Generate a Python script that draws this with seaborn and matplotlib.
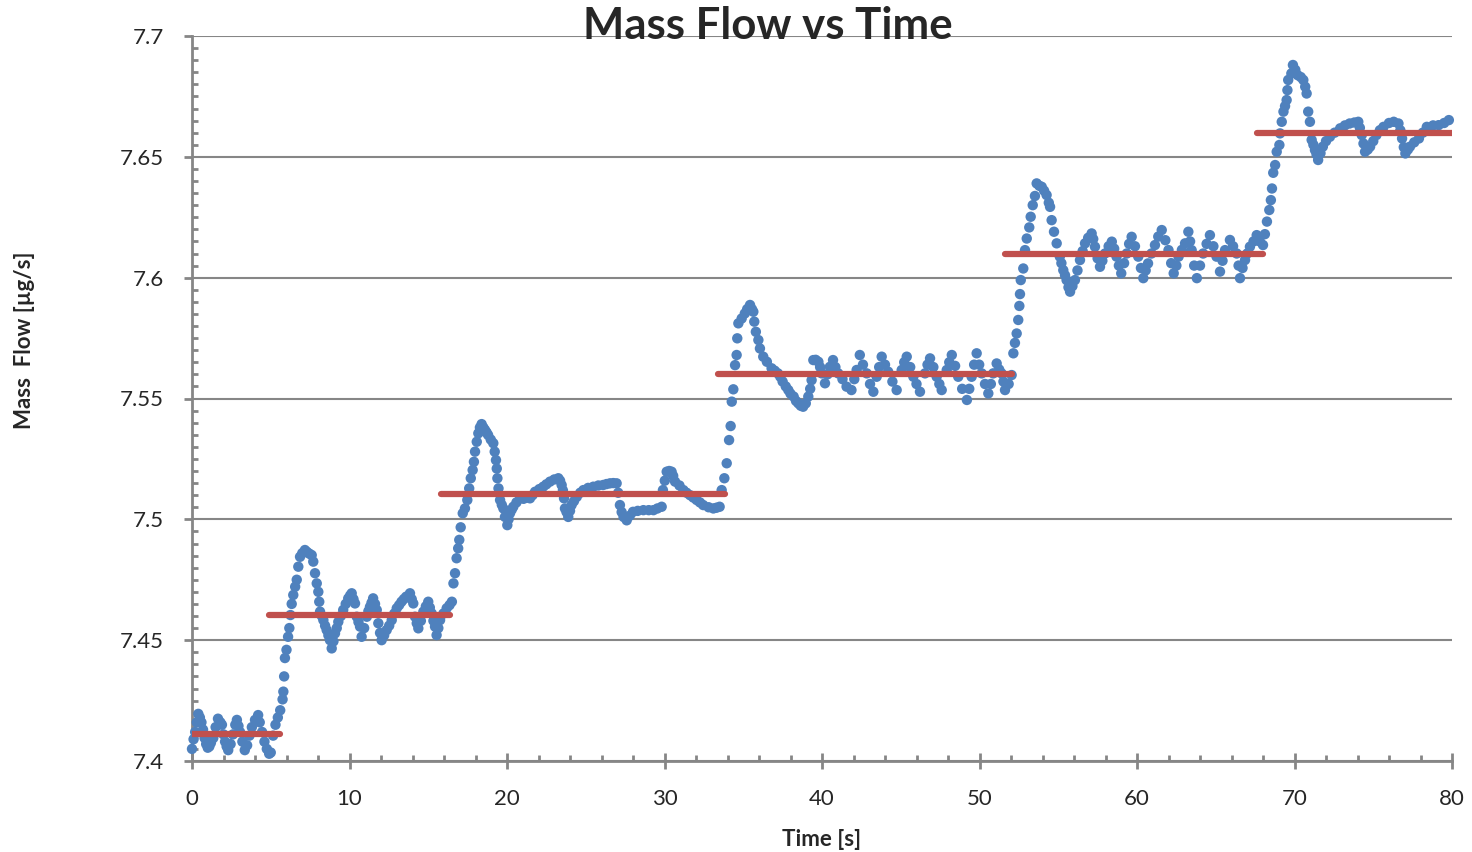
import numpy as np
import pandas as pd
import matplotlib
matplotlib.use("Agg")
import matplotlib.pyplot as plt
from matplotlib.ticker import MultipleLocator
import seaborn as sns

time_s = [
    0.0, 0.1, 0.2, 0.3, 0.4, 0.5, 0.6, 0.7, 0.8, 0.9, 1.0, 1.1, 1.2, 1.35, 1.5, 1.65, 1.8, 1.9,
    2.0, 2.1, 2.2, 2.3, 2.45, 2.6, 2.75, 2.85, 2.95, 3.05, 3.2, 3.35, 3.5, 3.65, 3.8, 4.0, 4.2,
    4.3, 4.45, 4.6, 4.75, 4.9, 5.0, 5.15, 5.3, 5.45, 5.6, 5.75,
    5.8, 5.85, 5.9, 6.0, 6.1, 6.18, 6.25, 6.33, 6.43, 6.55, 6.65, 6.75, 6.86, 7.0, 7.17, 7.3,
    7.45, 7.6, 7.7, 7.81, 7.92, 8.02, 8.08, 8.13, 8.24, 8.34, 8.45, 8.55, 8.66, 8.76, 8.87,
    8.98, 9.08, 9.19, 9.29, 9.45, 9.6, 9.76, 9.92, 10.04, 10.14, 10.25, 10.35, 10.46, 10.57,
    10.67, 10.77, 10.93, 11.1, 11.2, 11.3, 11.4, 11.5, 11.62, 11.73, 11.83, 11.94, 12.04,
    12.2, 12.36, 12.52, 12.68, 12.84, 13.0, 13.15, 13.3, 13.45, 13.6, 13.84, 13.95, 14.05,
    14.16, 14.27, 14.37, 14.53, 14.69, 14.85, 15.0, 15.1, 15.22, 15.33, 15.43, 15.53, 15.64,
    15.75, 15.96, 16.17, 16.35, 16.5, 16.6, 16.7, 16.8, 16.9, 16.97,
    17.06, 17.19, 17.33, 17.48, 17.6, 17.7, 17.82, 17.9, 17.97, 18.08, 18.18, 18.28, 18.39,
    18.5, 18.6, 18.7, 18.8, 18.97, 19.13, 19.22, 19.3, 19.35, 19.39, 19.46, 19.56, 19.67,
    19.77, 19.87, 20.02, 20.1, 20.19, 20.3, 20.4, 20.6, 20.83, 21.05, 21.25, 21.46, 21.62,
    21.78, 22.05, 22.3, 22.5, 22.73, 23.0, 23.26, 23.37, 23.47, 23.55, 23.62, 23.68, 23.78,
    23.89, 24.0, 24.1, 24.25, 24.43, 24.65, 24.85, 25.15, 25.48, 25.8, 26.1, 26.32, 26.54,
    26.75, 26.96, 27.06, 27.17, 27.28, 27.4, 27.6, 27.8, 28.0, 28.3, 28.66, 29.0, 29.3,
    29.55, 29.82, 29.9, 30.02, 30.14, 30.3, 30.45, 30.55, 30.67, 30.95, 31.2, 31.4, 31.62,
    31.83, 32.04, 32.25, 32.46, 32.8, 33.1, 33.3, 33.5, 33.63, 33.8, 33.95, 34.1, 34.2,
    34.27, 34.37, 34.48, 34.58, 34.62, 34.69, 34.9, 35.1, 35.25, 35.43, 35.55, 35.64, 35.7,
    35.8, 35.96, 36.06, 36.27, 36.5, 36.8, 37.0, 37.2, 37.35, 37.5, 37.7, 37.86, 38.0, 38.2,
    38.35, 38.5, 38.65, 38.8, 38.97, 39.13, 39.25, 39.34, 39.45, 39.6, 39.77, 39.88, 39.98,
    40.19, 40.35, 40.5, 40.7, 40.85, 41.03, 41.3, 41.56, 41.87, 42.05, 42.2, 42.4, 42.6,
    42.84, 43.05, 43.26, 43.47, 43.63, 43.79, 44.0, 44.2, 44.47, 44.74, 45.06, 45.22, 45.38,
    45.6, 45.8, 46.0, 46.22, 46.54, 46.7, 46.86, 47.07, 47.28, 47.45, 47.6, 47.92, 48.08,
    48.24, 48.45, 48.65, 48.9, 49.2, 49.35, 49.5, 49.66, 49.82, 49.98, 50.14, 50.35, 50.56,
    50.72, 50.87, 51.09, 51.25, 51.4, 51.52, 51.62, 51.85, 52.04, 52.15, 52.25, 52.36,
    52.46, 52.53, 52.57, 52.62, 52.78, 52.89, 53.0, 53.16, 53.25, 53.38, 53.52, 53.63, 53.8,
    53.95, 54.1, 54.26, 54.4, 54.48, 54.58, 54.73, 54.9, 55.1, 55.2, 55.32, 55.43, 55.53,
    55.65, 55.75, 55.9, 56.06, 56.22, 56.38, 56.55, 56.7, 56.9, 57.12, 57.22, 57.33, 57.5,
    57.65, 57.8, 57.97, 58.2, 58.4, 58.55, 58.7, 58.85, 59.0, 59.18, 59.35, 59.5, 59.66,
    59.87, 60.08, 60.25, 60.4, 60.55, 60.7, 60.92, 61.14, 61.35, 61.57, 61.8, 62.0, 62.17,
    62.33, 62.5, 62.64, 62.85, 63.05, 63.26, 63.37, 63.47, 63.63, 63.8, 64.0, 64.2, 64.42,
    64.63, 64.85, 65.05, 65.27, 65.43, 65.59, 65.9, 66.1, 66.33, 66.45, 66.54, 66.7, 66.86,
    67.0, 67.17, 67.4, 67.6, 67.8, 68.0, 68.12, 68.25, 68.4, 68.5, 68.57, 68.65, 68.77,
    68.87, 69.04, 69.08, 69.19, 69.3, 69.4, 69.5, 69.55, 69.6, 69.8, 69.9, 70.05, 70.2,
    70.4, 70.56, 70.68, 70.77, 70.87, 70.98, 71.09, 71.2, 71.3, 71.4, 71.5, 71.65, 71.8,
    72.0, 72.25, 72.55, 72.9, 73.2, 73.5, 73.8, 74.05, 74.15, 74.27, 74.38, 74.48, 74.65,
    74.8, 75.0, 75.2, 75.42, 75.65, 76.0, 76.3, 76.6, 76.72, 76.83, 76.94, 77.04, 77.2,
    77.33, 77.6, 77.9, 78.15, 78.4, 78.8, 79.15, 79.5, 79.8,
]
mass_flow = [
    7.405, 7.409, 7.412, 7.416, 7.4195, 7.418, 7.416, 7.413, 7.4095, 7.407, 7.4055, 7.406,
    7.4075, 7.4095, 7.414, 7.4175, 7.416, 7.415, 7.411, 7.408, 7.406, 7.4045, 7.407, 7.411,
    7.415, 7.417, 7.4145, 7.412, 7.408, 7.4045, 7.4065, 7.4105, 7.414, 7.417, 7.419, 7.416,
    7.412, 7.408, 7.405, 7.403, 7.4035, 7.4105, 7.415, 7.418, 7.421, 7.4255,
    7.4287, 7.435, 7.4426, 7.446, 7.4514, 7.455, 7.4604, 7.465, 7.4687, 7.4721, 7.475,
    7.4804, 7.4845, 7.486, 7.4873, 7.4865, 7.4858, 7.4852, 7.4825, 7.4777, 7.4735, 7.47,
    7.4659, 7.4618, 7.46, 7.4583, 7.456, 7.4542, 7.452, 7.45, 7.4466, 7.4495, 7.4528, 7.455,
    7.4576, 7.46, 7.4625, 7.465, 7.4673, 7.4685, 7.4694, 7.467, 7.4652, 7.4597, 7.4575,
    7.4556, 7.4514, 7.455, 7.4597, 7.462, 7.4638, 7.4655, 7.4673, 7.465, 7.4625, 7.457,
    7.453, 7.45, 7.452, 7.4542, 7.456, 7.4583, 7.461, 7.4632, 7.4645, 7.4659, 7.467, 7.468,
    7.4694, 7.467, 7.4652, 7.4597, 7.457, 7.4549, 7.458, 7.4618, 7.464, 7.4659, 7.4635,
    7.4611, 7.458, 7.4556, 7.4521, 7.455, 7.4583, 7.461, 7.4632, 7.4645, 7.4659, 7.4735,
    7.4777, 7.4839, 7.488, 7.4915,
    7.4967, 7.5025, 7.5045, 7.508, 7.5128, 7.517, 7.5204, 7.5238, 7.528, 7.5321, 7.5356,
    7.538, 7.5394, 7.538, 7.537, 7.536, 7.5349, 7.533, 7.5315, 7.528, 7.5245, 7.521, 7.517,
    7.5128, 7.508, 7.506, 7.5045, 7.501, 7.4976, 7.5, 7.5025, 7.504, 7.5052, 7.507, 7.5087,
    7.5085, 7.509, 7.5087, 7.51, 7.5114, 7.5125, 7.5135, 7.5145, 7.5156, 7.5165, 7.517,
    7.516, 7.5142, 7.512, 7.5087, 7.5045, 7.503, 7.501, 7.5035, 7.5059, 7.5075, 7.5093,
    7.511, 7.5121, 7.513, 7.5135, 7.514, 7.5142, 7.5146, 7.5149, 7.515, 7.5149, 7.511,
    7.5059, 7.503, 7.501, 7.4996, 7.5015, 7.5031, 7.5035, 7.5038, 7.5038, 7.5038, 7.5045,
    7.5052, 7.5121, 7.516, 7.5197, 7.52, 7.5197, 7.518, 7.5156, 7.514, 7.5121, 7.511, 7.51,
    7.509, 7.508, 7.507, 7.5059, 7.505, 7.5045, 7.5048, 7.5052, 7.5121, 7.517, 7.5232,
    7.5328, 7.5386, 7.5487, 7.5538, 7.5638, 7.568, 7.5749, 7.5811, 7.5831, 7.5852, 7.587,
    7.5887, 7.587, 7.5859, 7.5818, 7.5776, 7.5742, 7.5707, 7.5673, 7.5652, 7.5625, 7.5615,
    7.5604, 7.559, 7.557, 7.555, 7.5535, 7.552, 7.5508, 7.549, 7.548, 7.547, 7.5466, 7.548,
    7.5508, 7.554, 7.5576, 7.5659, 7.566, 7.5652, 7.563, 7.5604, 7.5563, 7.56, 7.5631,
    7.5659, 7.563, 7.5604, 7.558, 7.5549, 7.5535, 7.558, 7.5618, 7.568, 7.564, 7.5604,
    7.556, 7.5528, 7.559, 7.563, 7.5673, 7.564, 7.5611, 7.557, 7.5535, 7.5618, 7.565,
    7.5673, 7.563, 7.559, 7.556, 7.5528, 7.5604, 7.564, 7.5666, 7.563, 7.559, 7.556, 7.5535,
    7.5618, 7.565, 7.568, 7.5635, 7.559, 7.554, 7.5494, 7.554, 7.559, 7.564, 7.5687, 7.564,
    7.5604, 7.556, 7.5521, 7.556, 7.5604, 7.5645, 7.562, 7.5604, 7.557, 7.5535, 7.556,
    7.5597, 7.5687, 7.573, 7.5769, 7.5825, 7.5883, 7.5932, 7.599, 7.6038, 7.6114, 7.6162,
    7.6208, 7.6252, 7.63, 7.6338, 7.639, 7.638, 7.6376, 7.636, 7.6342, 7.631, 7.6293,
    7.6238, 7.619, 7.6142, 7.6087, 7.606, 7.6031, 7.601, 7.599, 7.596, 7.5942, 7.5965,
    7.599, 7.603, 7.6073, 7.611, 7.6142, 7.6165, 7.6183, 7.616, 7.6128, 7.608, 7.6045,
    7.607, 7.61, 7.613, 7.6149, 7.612, 7.6087, 7.605, 7.6018, 7.606, 7.61, 7.614, 7.6169,
    7.613, 7.6087, 7.604, 7.5998, 7.603, 7.6059, 7.61, 7.6135, 7.617, 7.6197, 7.6155,
    7.6114, 7.606, 7.6018, 7.605, 7.6087, 7.6115, 7.6142, 7.619, 7.615, 7.6114, 7.605,
    7.5998, 7.605, 7.61, 7.614, 7.6176, 7.613, 7.6087, 7.6025, 7.607, 7.6114, 7.6156, 7.613,
    7.61, 7.605, 7.5998, 7.604, 7.6073, 7.61, 7.6128, 7.615, 7.6176, 7.615, 7.6135, 7.618,
    7.6232, 7.628, 7.6321, 7.6369, 7.6434, 7.6466, 7.6521, 7.6549, 7.6597, 7.6645, 7.6687,
    7.671, 7.6735, 7.6776, 7.6818, 7.6845, 7.688, 7.686, 7.6838, 7.683, 7.6818, 7.679,
    7.6762, 7.6687, 7.6645, 7.657, 7.655, 7.6528, 7.651, 7.6487, 7.6515, 7.6542, 7.6565,
    7.6583, 7.66, 7.6618, 7.663, 7.6638, 7.6642, 7.6645, 7.662, 7.659, 7.6555, 7.6521,
    7.653, 7.6542, 7.6565, 7.659, 7.661, 7.6624, 7.664, 7.6645, 7.6638, 7.661, 7.6576,
    7.654, 7.6514, 7.653, 7.6542, 7.656, 7.6576, 7.66, 7.6624, 7.663, 7.6631, 7.664, 7.6652,
]

# setpoint steps (red lines)
step_start = [0.0, 4.9, 15.8, 33.4, 51.6, 67.6]
step_end = [5.6, 16.4, 33.85, 52.05, 68.0, 80.0]
step_level = [7.411, 7.4605, 7.5103, 7.5601, 7.6097, 7.6597]

blue = "#4F81BD"
red = "#C0504D"
grey = "#868686"

sns.set_theme(style="white")
plt.rcParams["font.family"] = ["Lato", "DejaVu Sans"]

fig = plt.figure(figsize=(14.72, 8.52), dpi=100)
ax = fig.add_axes([192 / 1472, 1 - 761 / 852, 1260 / 1472, 725 / 852])

meas = pd.DataFrame({"t": time_s, "flow": mass_flow})
sns.scatterplot(data=meas, x="t", y="flow", ax=ax, color=blue, s=56,
                edgecolor="none", linewidth=0, clip_on=False, zorder=3)

steps = pd.DataFrame({
    "t": step_start + step_end,
    "flow": step_level + step_level,
    "seg": list(range(6)) * 2,
})
sns.lineplot(data=steps, x="t", y="flow", units="seg", estimator=None, ax=ax,
             color=red, lw=4.5, solid_capstyle="round", zorder=4, legend=False)

ax.set_xlim(0, 80)
ax.set_ylim(7.4, 7.7)
ax.xaxis.set_major_locator(MultipleLocator(10))
ax.xaxis.set_minor_locator(MultipleLocator(2))
ax.yaxis.set_major_locator(MultipleLocator(0.05))
ax.yaxis.set_minor_locator(MultipleLocator(0.005))
ax.set_yticks(np.arange(7.4, 7.7001, 0.05))
ax.set_yticklabels(["7.4", "7.45", "7.5", "7.55", "7.6", "7.65", "7.7"])

ax.grid(axis="y", which="major", color=grey, lw=1.5)
ax.grid(axis="x", visible=False)
for side in ["top", "right"]:
    ax.spines[side].set_visible(False)
for side in ["left", "bottom"]:
    ax.spines[side].set_color(grey)
    ax.spines[side].set_linewidth(2)

ax.tick_params(axis="x", which="major", direction="inout", length=12, width=2,
               color=grey, pad=14, labelsize=16)
ax.tick_params(axis="x", which="minor", direction="in", length=4.5, width=2, color=grey)
ax.tick_params(axis="y", which="major", direction="out", length=5.5, width=2,
               color=grey, pad=15, labelsize=16)
ax.tick_params(axis="y", which="minor", direction="in", length=4.5, width=2, color=grey)
ax.tick_params(bottom=True, left=True, which="both")

ax.set_xlabel("Time [s]", fontsize=16, fontweight="bold")
ax.xaxis.set_label_coords(0.5, (761 - 829) / 725)
ax.set_ylabel("Mass  Flow [µg/s]", fontsize=16, fontweight="bold", va="center")
ax.yaxis.set_label_coords((25 - 192) / 1260, (761 - 340) / 725)

fig.text(768 / 1472, 1 - 39 / 852, "Mass Flow vs Time", ha="center", va="baseline",
         fontsize=31.5, fontweight="bold")

fig.savefig("out.png", dpi=100)
